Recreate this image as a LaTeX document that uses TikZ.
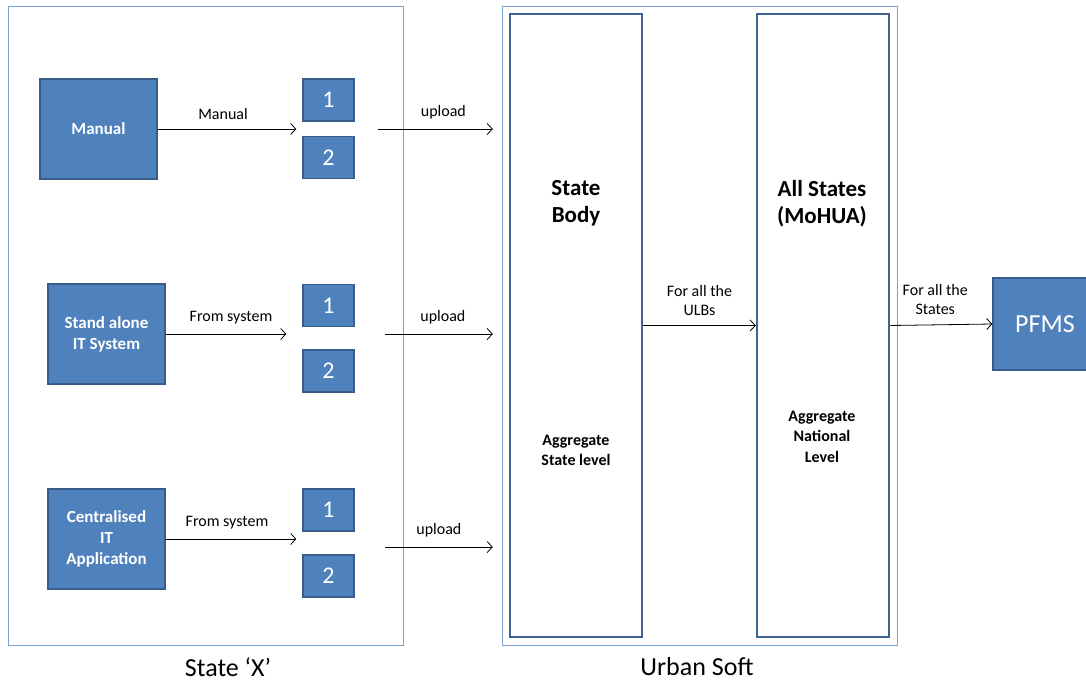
\documentclass[tikz,border=0pt]{standalone}
\usepackage{fontspec}
\setmainfont{Carlito}
\usepackage{tikz}
\usetikzlibrary{arrows.meta}

\definecolor{boxfill}{RGB}{79,129,189}
\definecolor{boxline}{RGB}{56,93,138}
\definecolor{frameline}{RGB}{120,160,210}
\definecolor{colline}{RGB}{63,100,145}

\begin{document}
\begin{tikzpicture}[
    x=1pt, y=-1pt,
    blue box/.style={rectangle, fill=boxfill, draw=boxline, line width=1.5pt,
        inner sep=0pt, text=white, align=center},
    src/.style={blue box, minimum width=117pt, minimum height=100pt,
        font=\fontsize{17}{21}\selectfont\bfseries},
    num/.style={blue box, minimum width=51pt, minimum height=42pt,
        font=\fontsize{24}{26}\selectfont},
    frame/.style={rectangle, draw=frameline, line width=1pt, inner sep=0pt,
        minimum width=395pt, minimum height=639pt},
    column/.style={rectangle, draw=colline, line width=2.5pt, fill=white,
        inner sep=0pt, minimum width=132pt, minimum height=623pt},
    arr/.style={-{Straight Barb[length=5pt, width=11pt]}, line width=0.8pt},
    lbl/.style={font=\fontsize{16}{19}\selectfont, align=center},
    title/.style={font=\fontsize{23}{27}\selectfont\bfseries, align=center},
    note/.style={font=\fontsize{16}{20.5}\selectfont\bfseries, align=center},
    caption/.style={font=\fontsize{26}{28}\selectfont}
    ]
    \clip (0,0) rectangle (1086,683);
    \useasboundingbox (0,0) rectangle (1086,683);

    % the two frames
    \node[frame] (statex) at (205.5,325.5) {};
    \node[frame] (urban) at (699.5,325.5) {};
    \node[caption] (statex-cap) at (228,667) {State ‘X’};
    \node[caption] (urban-cap) at (697,667) {Urban Soft};

    % sources
    \node[src] (manual) at (98.5,129) {Manual};
    \node[src] (sa) at (106.5,334) {Stand alone\\IT System};
    \node[src] (cit) at (106.5,539) {Centralised\\IT\\Application};

    \node[num] (b-1-1) at (328.5,100) {1};
    \node[num] (b-1-2) at (328.5,157.5) {2};
    \node[num] (b-2-1) at (328.5,305.5) {1};
    \node[num] (b-2-2) at (328.5,371) {2};
    \node[num] (b-3-1) at (328.5,510) {1};
    \node[num] (b-3-2) at (328.5,576) {2};

    % columns
    \node[column] (sb) at (576,325.5) {};
    \node[column] (as) at (823,325.5) {};
    \node[title] (sb-title) at (576,203.5) {State\\Body};
    \node[note] (sb-note) at (576,450.5) {Aggregate\\State level};
    \node[title] (as-title) at (822,203.5) {All States\\(MoHUA)};
    \node[note] (as-note) at (822,436.5) {Aggregate\\National\\Level};

    \node[blue box, minimum width=104pt, minimum height=92pt,
        font=\fontsize{26}{28}\selectfont] (pfms) at (1045,324) {PFMS};

    % arrows
    \draw[arr, shorten >=6pt] (manual.east) -- (manual.east -| b-1-1.west)
        node[lbl, midway, above=6pt, xshift=-7pt] {Manual};
    \draw[arr, shorten >=16pt] (sa.east) -- (sa.east -| b-2-1.west)
        node[lbl, midway, above=6pt, xshift=-3pt] {From system};
    \draw[arr, shorten >=6pt] (cit.east) -- (cit.east -| b-3-1.west)
        node[lbl, midway, above=6pt, xshift=-7pt] {From system};

    \coordinate (u1) at (378,129);
    \coordinate (u2) at (385,334);
    \coordinate (u3) at (385,547);
    \draw[arr, shorten >=16pt] (u1) -- (u1 -| sb.west)
        node[lbl, midway, above=6pt] {upload};
    \draw[arr, shorten >=16pt] (u2) -- (u2 -| sb.west)
        node[lbl, midway, above=6pt, xshift=-4pt] {upload};
    \draw[arr, shorten >=16pt] (u3) -- (u3 -| sb.west)
        node[lbl, midway, above=6pt, xshift=-8pt] {upload};

    \draw[arr] (sb.east) -- (as.west)
        node[lbl, midway, above=6pt] {For all the\\ULBs};
    \draw[arr] (as.east) -- (pfms.west)
        node[lbl, midway, above=6pt, xshift=-6pt] {For all the\\States};
\end{tikzpicture}
\end{document}
